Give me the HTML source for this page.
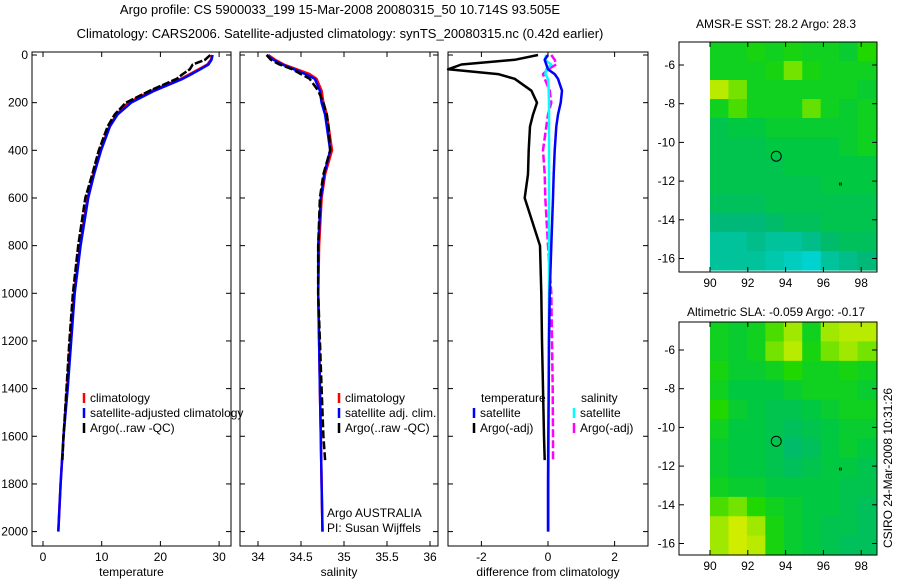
<!DOCTYPE html>
<html><head><meta charset="utf-8">
<style>
html,body{margin:0;padding:0;background:#fff;}
svg{display:block;font-family:"Liberation Sans",sans-serif;font-size:12px;}
</style></head>
<body>
<svg id="c" width="900" height="580" viewBox="0 0 900 580">
<text x="340" y="14" text-anchor="middle" font-size="13">Argo profile: CS 5900033_199 15-Mar-2008 20080315_50 10.714S 93.505E</text>
<text x="340" y="38" text-anchor="middle" font-size="13">Climatology: CARS2006. Satellite-adjusted climatology: synTS_20080315.nc (0.42d earlier)</text>
<text x="776" y="28" text-anchor="middle">AMSR-E SST: 28.2 Argo: 28.3</text>
<text x="776" y="316" text-anchor="middle">Altimetric SLA: -0.059 Argo: -0.17</text>
<text transform="translate(892,468) rotate(-90)" text-anchor="middle">CSIRO 24-Mar-2008 10:31:26</text>
</svg>
<script>
// ---------- data ----------
const depths = [0,20,40,60,80,100,150,200,250,300,400,500,600,800,1000,1200,1400,1600,1800,2000];
const tempClim = [28.8,28.6,28.0,26.5,25.0,23.5,18.5,14.5,12.5,11.3,9.8,8.6,7.6,6.3,5.3,4.7,4.1,3.5,3.0,2.6];
const tempSat  = [28.9,28.7,28.2,26.8,25.3,23.8,19.0,15.0,12.7,11.4,9.9,8.7,7.7,6.4,5.4,4.8,4.2,3.5,3.0,2.6];
const argoDepths = [0,20,40,60,80,100,150,200,250,300,400,500,600,800,1000,1200,1400,1600,1700];
const tempArgo = [28.5,27.6,25.5,25.0,23.8,22.8,18.2,14.1,12.2,11.0,9.5,8.4,7.2,6.0,5.1,4.5,4.0,3.5,3.3];
const salClim = [34.12,34.2,34.3,34.45,34.6,34.68,34.74,34.76,34.8,34.82,34.86,34.78,34.74,34.71,34.7,34.71,34.72,34.73,34.74,34.75];
const salSat  = [34.10,34.18,34.28,34.42,34.55,34.66,34.72,34.74,34.78,34.8,34.84,34.77,34.73,34.7,34.7,34.71,34.72,34.73,34.74,34.75];
const salArgo = [34.1,34.15,34.25,34.4,34.5,34.6,34.7,34.76,34.8,34.82,34.84,34.76,34.72,34.7,34.7,34.72,34.74,34.76,34.78];
const dTempArgo = [-0.3,-1.0,-2.6,-3.0,-1.5,-1.0,-0.5,-0.33,-0.45,-0.54,-0.58,-0.6,-0.7,-0.24,-0.2,-0.18,-0.15,-0.12,-0.1];
const dTempSat  = [0.0,-0.1,-0.05,0.0,0.2,0.3,0.42,0.38,0.3,0.25,0.2,0.17,0.15,0.1,0.05,0.03,0.02,0.01,0.0,0.0];
const dSalSat   = [-0.05,-0.1,0.1,-0.05,-0.08,0.0,0.02,0.03,0.03,0.03,0.03,0.03,0.03,0.03,0.03,0.02,0.02,0.02,0.02,0.02];
const dSalArgo  = [0.1,0.2,0.25,0.0,-0.15,-0.1,0.05,0.1,0.0,-0.05,-0.15,-0.1,-0.08,0.0,0.1,0.12,0.14,0.15,0.15];
const depthTicks = [0,200,400,600,800,1000,1200,1400,1600,1800,2000];
const tempTicks = [0,10,20,30];
const salTicks = [34,34.5,35,35.5,36];
const salTickLabels = ['34','34.5','35','35.5','36'];
const diffTicks = [-2,0,2];
const lonTicks = [90,92,94,96,98];
const latTicks = [-6,-8,-10,-12,-14,-16];
const sstGrid = [
[.6,.6,.65,.6,.65,.6,.6,.55,.7],
[.6,.6,.6,.65,.8,.65,.6,.6,.6],
[.9,.8,.6,.6,.6,.6,.6,.6,.55],
[.6,.75,.6,.6,.6,.78,.6,.55,.6],
[.45,.5,.5,.55,.55,.55,.55,.55,.6],
[.45,.45,.45,.5,.5,.5,.5,.55,.6],
[.45,.45,.45,.45,.5,.5,.5,.5,.5],
[.45,.45,.45,.45,.45,.45,.5,.5,.5],
[.4,.4,.4,.45,.45,.45,.45,.45,.45],
[.3,.3,.3,.35,.4,.4,.45,.45,.45],
[.2,.2,.25,.2,.2,.25,.35,.4,.4],
[.2,.2,.2,.15,.1,.05,.2,.25,.3]];
const slaGrid = [
[.6,.55,.6,.75,.85,.6,.85,.9,.9],
[.6,.55,.6,.8,.9,.65,.8,.85,.8],
[.65,.55,.55,.6,.7,.6,.6,.65,.6],
[.6,.5,.5,.5,.55,.6,.6,.6,.55],
[.7,.55,.5,.45,.45,.5,.55,.6,.6],
[.6,.5,.5,.45,.4,.45,.5,.55,.55],
[.55,.5,.5,.45,.35,.4,.5,.55,.5],
[.55,.5,.5,.45,.4,.45,.5,.5,.45],
[.6,.55,.55,.5,.5,.5,.5,.45,.45],
[.75,.8,.7,.6,.55,.5,.5,.45,.4],
[.85,.95,.85,.65,.55,.5,.45,.45,.4],
[.85,.95,.9,.65,.55,.5,.45,.4,.4]];
const argoLon = 93.505, argoLat = -10.714;

// ---------- helpers ----------
const S = document.getElementById('c');
const NS = 'http://www.w3.org/2000/svg';
function mk(tag, attrs, parent){const e=document.createElementNS(NS,tag);for(const k in attrs)e.setAttribute(k,attrs[k]);(parent||S).appendChild(e);return e;}
const yD = d => 55 + d*0.2383;

function panel(name, x0, x1, y0, y1, xs, xTicks, xLabels, yTicks, yFn, yLabels, xlabel){
  const g = mk('g',{});
  
  
  const r = mk('rect',{x:x0,y:y0,width:x1-x0,height:y1-y0,fill:'none',stroke:'#000','stroke-width':1},g);
  
  
  xTicks.forEach((t,i)=>{
    const x=xs(t);
    mk('line',{x1:x,y1:y1,x2:x,y2:y1-5,stroke:'#000'},g);
    mk('line',{x1:x,y1:y0,x2:x,y2:y0+5,stroke:'#000'},g);
    const tx=mk('text',{x:x,y:y1+15,'text-anchor':'middle'},g);
    tx.textContent=xLabels[i];
    
    
  });
  yTicks.forEach((t,i)=>{
    const y=yFn(t);
    mk('line',{x1:x0,y1:y,x2:x0+5,y2:y,stroke:'#000'},g);
    mk('line',{x1:x1,y1:y,x2:x1-5,y2:y,stroke:'#000'},g);
    if(yLabels){
      const tx=mk('text',{x:x0-4,y:y+4,'text-anchor':'end'},g);
      tx.textContent=yLabels[i];
      
      
    }
  });
  if(xlabel){
    const tl=mk('text',{x:(x0+x1)/2,y:y1+30,'text-anchor':'middle'},g);
    tl.textContent=xlabel;
    
    
  }
  return g;
}
function line(name, vals, ds, xs, color, width, dash){
  const pts = vals.map((v,i)=>xs(v).toFixed(1)+','+yD(ds[i]).toFixed(1)).join(' ');
  const p = mk('polyline',{points:pts,fill:'none',stroke:color,'stroke-width':width,'stroke-dasharray':dash||'none','stroke-linejoin':'round'});
  
  
}
function legend(items, x, y){
  items.forEach((it,i)=>{
    if(it.color){
      const m=mk('line',{x1:x,y1:y+i*15-9,x2:x,y2:y+i*15+1,stroke:it.color,'stroke-width':2.5});
      
      
    }
    const t=mk('text',{x:x+(it.color?6:0),y:y+i*15});
    t.textContent=it.label;
    
    
  });
}

// ---------- temperature panel ----------
const xT = v => 43 + v*5.87;
panel('temperature-panel',32,231,52,546,xT,tempTicks,tempTicks.map(String),depthTicks,yD,depthTicks.map(String),'temperature');
line('temp-climatology',tempClim,depths,xT,'#ff0000',2.5);
line('temp-satellite-adjusted',tempSat,depths,xT,'#0000ff',2.5);
line('temp-argo',tempArgo,argoDepths,xT,'#000000',2.5,'8,2');
legend([{color:'#f00',label:'climatology'},{color:'#00f',label:'satellite-adjusted climatology'},{color:'#000',label:'Argo(..raw -QC)'}],84,402);

// ---------- salinity panel ----------
const xS = v => 258 + (v-34)*86;
panel('salinity-panel',240,438,52,546,xS,salTicks,salTickLabels,depthTicks,yD,null,'salinity');
line('sal-climatology',salClim,depths,xS,'#ff0000',2.5);
line('sal-satellite-adjusted',salSat,depths,xS,'#0000ff',2.5);
line('sal-argo',salArgo,argoDepths,xS,'#000000',2.5,'8,3');
legend([{color:'#f00',label:'climatology'},{color:'#00f',label:'satellite adj. clim.'},{color:'#000',label:'Argo(..raw -QC)'}],339,402);
legend([{label:'Argo AUSTRALIA'},{label:'PI: Susan Wijffels'}],327,517);

// ---------- difference panel ----------
const xDf = v => 548 + v*33.3;
panel('difference-panel',448,648,52,546,xDf,diffTicks,diffTicks.map(String),depthTicks,yD,null,'difference from climatology');
line('diff-sal-argo',dSalArgo,argoDepths,xDf,'#ff00ff',2.5,'8,3');
line('diff-sal-satellite',dSalSat,depths,xDf,'#00ffff',2.5);
line('diff-temp-satellite',dTempSat,depths,xDf,'#0000ff',2.5);
line('diff-temp-argo',dTempArgo,argoDepths,xDf,'#000000',2.5);
legend([{label:'temperature'}],481,402);
legend([{color:'#00f',label:'satellite'},{color:'#000',label:'Argo(-adj)'}],474,417);
legend([{label:'salinity'}],581,402);
legend([{color:'#0ff',label:'satellite'},{color:'#f0f',label:'Argo(-adj)'}],574,417);

// ---------- maps ----------
function cmap(v){
  const stops=[[0,[0,216,224]],[0.3,[0,184,120]],[0.5,[0,200,64]],[0.7,[32,216,0]],[0.85,[160,232,0]],[1,[232,240,0]]];
  for(let i=1;i<stops.length;i++){ if(v<=stops[i][0]){const a=stops[i-1],b=stops[i],t=(v-a[0])/(b[0]-a[0]);
    return 'rgb('+a[1].map((c,k)=>Math.round(c+(b[1][k]-c)*t)).join(',')+')';}}
  return 'rgb(232,240,0)';
}
function map(name, y0, y1, latRef, grid){
  const xL = lon => 710 + (lon-90)*18.9;
  const yL = lat => latRef + (-6-lat)*19.35;
  const rows=grid.length, cols=grid[0].length;
  const gx0=710, gx1=876, gy0=y0, gy1=yL(-16.6);
  const cw=(gx1-gx0)/cols, ch=(gy1-gy0)/rows;
  grid.forEach((row,r)=>row.forEach((v,c)=>{
    const cell=mk('rect',{x:gx0+c*cw,y:gy0+r*ch,width:cw+0.5,height:ch+0.5,fill:cmap(v)});
    
    
  }));
  panel(name,679,877,y0,y1,xL,lonTicks,lonTicks.map(String),latTicks,yL,latTicks.map(String),null);
  const m=mk('circle',{cx:xL(argoLon),cy:yL(argoLat),r:5,fill:'none',stroke:'#000'});
  
  
  mk('rect',{x:xL(96.85),y:yL(-12.1),width:2,height:2,fill:'none',stroke:'#000','stroke-width':0.7});
}
map('sst-map',42,272,65,sstGrid);
map('sla-map',322,555,350,slaGrid);
</script>
</body></html>
